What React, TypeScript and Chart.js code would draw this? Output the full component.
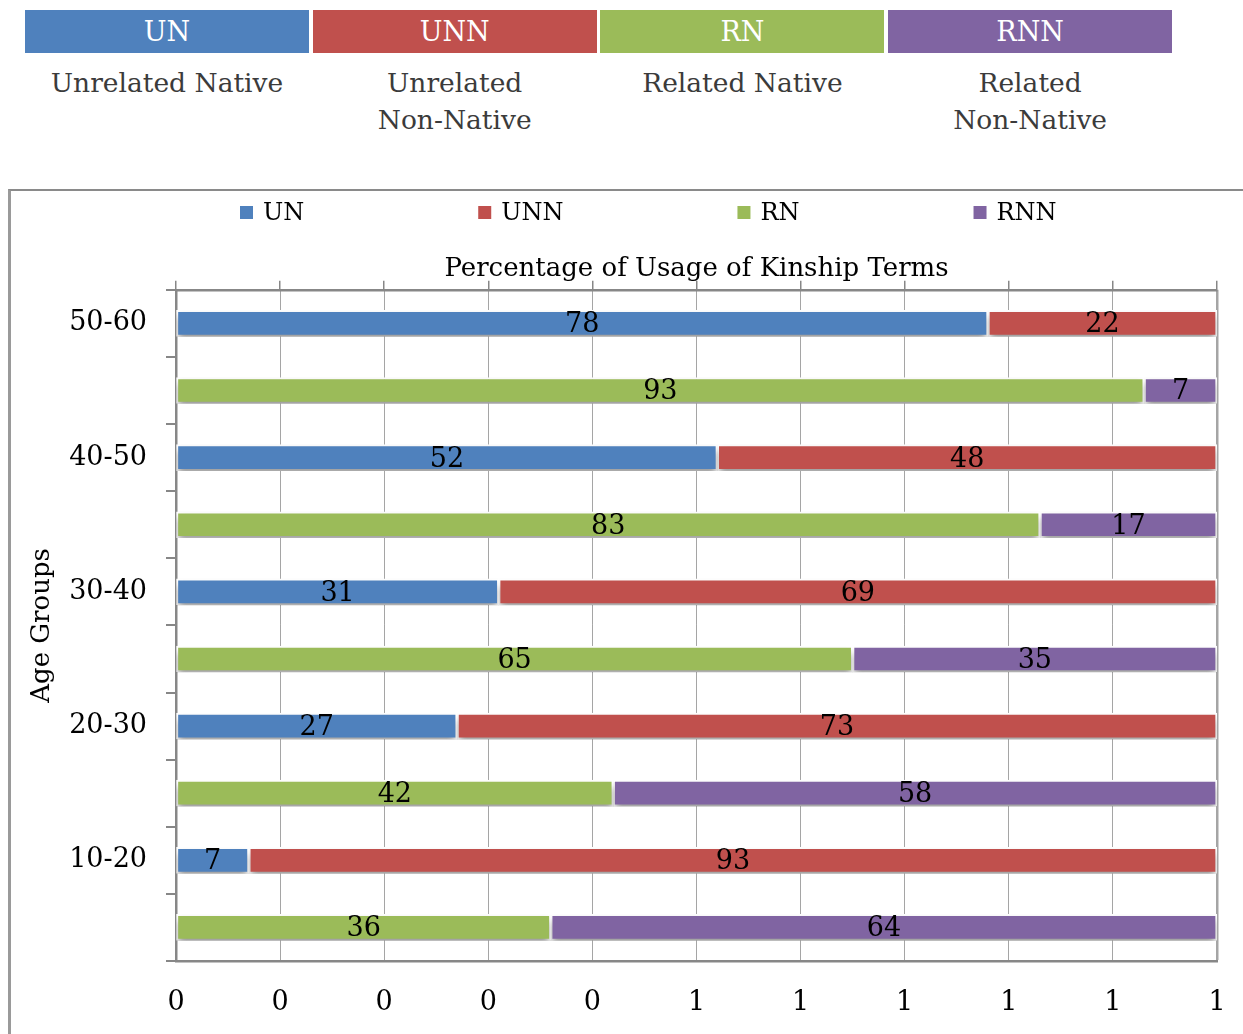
import React, { useEffect, useRef } from 'react';
import { Chart, registerables } from 'chart.js';

Chart.register(...registerables);

const FONT = '"DejaVu Serif", serif';

const categories = ['50-60', '', '40-50', '', '30-40', '', '20-30', '', '10-20', ''];
const unValues = [78, null, 52, null, 31, null, 27, null, 7, null];
const unnValues = [22, null, 48, null, 69, null, 73, null, 93, null];
const rnValues = [null, 93, null, 83, null, 65, null, 42, null, 36];
const rnnValues = [null, 7, null, 17, null, 35, null, 58, null, 64];
const seriesCodes = ['UN', 'UNN', 'RN', 'RNN'];
const seriesNames = [['Unrelated Native'], ['Unrelated', 'Non-Native'], ['Related Native'], ['Related', 'Non-Native']];
const seriesColors = ['#4F81BD', '#C0504D', '#9BBB59', '#8064A2'];
const xTickLabels = ['0', '0', '0', '0', '0', '1', '1', '1', '1', '1', '1'];
const chartTitle = 'Percentage of Usage of Kinship Terms';
const yAxisTitle = 'Age Groups';

const AXIS_COLOR = '#878787';
const GRID_COLOR = '#a5a5a5';

const spacedLegend = {
  id: 'spacedLegend',
  afterDraw(chart: any) {
    const ctx = chart.ctx;
    ctx.save();
    ctx.font = `24px ${FONT}`;
    ctx.textBaseline = 'middle';
    ctx.textAlign = 'left';
    let x = 229;
    const y = 22;
    chart.data.datasets.forEach((ds: any) => {
      ctx.fillStyle = ds.backgroundColor;
      ctx.fillRect(x, y - 7, 13, 13);
      ctx.fillStyle = '#000';
      ctx.fillText(ds.label, x + 23, y + 1);
      x += 23 + ctx.measureText(ds.label).width + 174;
    });
    ctx.restore();
  },
};

const barEffects = {
  id: 'barEffects',
  beforeDatasetsDraw(chart: any) {
    const ctx = chart.ctx;
    ctx.save();
    ctx.shadowColor = 'rgba(0,0,0,0.4)';
    ctx.shadowBlur = 7;
    ctx.shadowOffsetY = 5;
  },
  afterDatasetsDraw(chart: any) {
    const ctx = chart.ctx;
    ctx.restore();
    ctx.save();
    ctx.font = `27px ${FONT}`;
    ctx.fillStyle = '#000';
    ctx.textAlign = 'center';
    ctx.textBaseline = 'middle';
    chart.data.datasets.forEach((ds: any, di: number) => {
      const meta = chart.getDatasetMeta(di);
      meta.data.forEach((el: any, i: number) => {
        const v = ds.data[i];
        if (v === null || v === undefined) return;
        const { x, base, y } = el.getProps(['x', 'base', 'y'], true);
        ctx.fillText(String(v), (x + base) / 2, y + 2);
      });
    });
    ctx.restore();
  },
};

function ChartCanvas() {
  const ref = useRef<HTMLCanvasElement | null>(null);
  useEffect(() => {
    if (!ref.current) return;
    const seriesValues = [unValues, unnValues, rnValues, rnnValues];
    const chart = new Chart(ref.current, {
      type: 'bar',
      data: {
        labels: categories,
        datasets: seriesCodes.map((code, i) => ({
          label: code,
          data: seriesValues[i] as any,
          backgroundColor: seriesColors[i],
          borderColor: '#ffffff',
          borderWidth: 2,
          borderSkipped: false,
          barThickness: 26,
        })),
      },
      options: {
        indexAxis: 'y',
        responsive: false,
        animation: false,
        events: [],
        layout: { padding: { top: 50, left: 6, right: 26, bottom: 16 } },
        plugins: {
          legend: { display: false },
          tooltip: { enabled: false },
          title: {
            display: true,
            fullSize: false,
            text: chartTitle,
            color: '#000',
            font: { family: FONT, size: 26, weight: 'normal', lineHeight: 0.8 },
            padding: { top: 18, bottom: 0 },
          },
        },
        scales: {
          x: {
            type: 'linear',
            position: 'bottom',
            stacked: true,
            min: 0,
            max: 100,
            ticks: {
              stepSize: 10,
              color: '#000',
              font: { family: FONT, size: 27 },
              padding: 26,
              callback: (_v: any, idx: number) => xTickLabels[idx],
            },
            grid: {
              color: GRID_COLOR,
              lineWidth: (c: any) => (c.tick && c.tick.value === 100 ? 2.5 : 1),
              drawTicks: false,
            },
            border: { display: true, color: AXIS_COLOR, width: 2.5 },
            afterFit: (s: any) => {
              s.height = 57;
              s.paddingLeft = 0;
              s.paddingRight = 0;
            },
          },
          x2: {
            type: 'linear',
            position: 'top',
            min: 0,
            max: 100,
            ticks: { stepSize: 10, display: false },
            grid: {
              drawOnChartArea: false,
              drawTicks: true,
              tickLength: 9,
              color: AXIS_COLOR,
              lineWidth: 1.5,
            },
            border: { display: true, color: AXIS_COLOR, width: 2.5 },
            afterFit: (s: any) => {
              s.height = 10;
              s.paddingLeft = 0;
              s.paddingRight = 0;
            },
          },
          y: {
            type: 'category',
            stacked: true,
            offset: true,
            ticks: {
              color: '#000',
              font: { family: FONT, size: 27 },
              padding: 19,
              autoSkip: false,
            },
            grid: {
              drawOnChartArea: false,
              drawTicks: true,
              tickLength: 10,
              offset: true,
              color: AXIS_COLOR,
              lineWidth: 2,
            },
            border: { display: true, color: AXIS_COLOR, width: 2.5 },
            title: {
              display: true,
              text: yAxisTitle,
              color: '#000',
              font: { family: FONT, size: 26 },
              padding: 10,
            },
            afterFit: (s: any) => {
              s.width = 159;
              s.paddingTop = 0;
              s.paddingBottom = 0;
            },
          },
        },
      } as any,
      plugins: [barEffects, spacedLegend],
    });
    return () => chart.destroy();
  }, []);
  return <canvas ref={ref} width={1232} height={843} style={{ position: 'absolute', left: 0, top: 0, width: 1232, height: 843 }} />;
}

export default function App() {
  const step = 287.7;
  return (
    <div style={{ position: 'absolute', left: 0, top: 0, width: 1243, height: 1034, overflow: 'hidden', background: '#fff', fontFamily: FONT }}>
      {seriesCodes.map((code, i) => (
        <React.Fragment key={code}>
          <div
            style={{
              position: 'absolute',
              left: 25 + i * step,
              top: 10,
              width: 284,
              height: 43,
              background: seriesColors[i],
              color: '#fff',
              fontSize: 27,
              lineHeight: '44px',
              textAlign: 'center',
            }}
          >
            {code}
          </div>
          <div
            style={{
              position: 'absolute',
              left: 25 + i * step,
              top: 64,
              width: 284,
              color: '#3b3b3b',
              fontSize: 26.5,
              lineHeight: '37px',
              textAlign: 'center',
            }}
          >
            {seriesNames[i].map((ln) => (
              <div key={ln}>{ln}</div>
            ))}
          </div>
        </React.Fragment>
      ))}
      <div
        style={{
          position: 'absolute',
          left: 8,
          top: 189,
          width: 1300,
          height: 900,
          borderLeft: '3px solid #9a9a9a',
          borderTop: '2px solid #8a8a8a',
        }}
      >
        <ChartCanvas />
      </div>
    </div>
  );
}
